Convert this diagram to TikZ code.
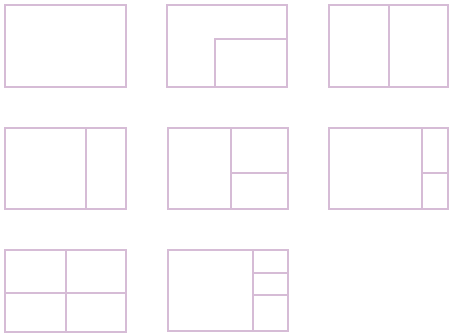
\documentclass[tikz,border=0pt]{standalone}
\definecolor{frame}{RGB}{214,188,214}
\begin{document}
\begin{tikzpicture}[x=1pt,y=-1pt,
  pane/.style={draw=frame,line width=2pt}]
\useasboundingbox (0,0) rectangle (449,335);
% row 1
\draw[pane] (5,5) rectangle (125.5,86.5);
\draw[pane] (167,5) rectangle (287,86.5);
\draw[pane] (214.5,38.5) rectangle (287,86.5);
\draw[pane] (328.5,5) rectangle (448,86.5);
\draw[pane] (388.5,5) -- (388.5,86.5);
% row 2
\draw[pane] (5,127.5) rectangle (125.5,208.5);
\draw[pane] (86,127.5) -- (86,208.5);
\draw[pane] (167.5,127.5) rectangle (287.5,208.5);
\draw[pane] (230.5,127.5) -- (230.5,208.5);
\draw[pane] (230.5,172.5) -- (287.5,172.5);
\draw[pane] (329,127.5) rectangle (448,208.5);
\draw[pane] (421.5,127.5) -- (421.5,208.5);
\draw[pane] (421.5,172.5) -- (448,172.5);
% row 3
\draw[pane] (5,249.5) rectangle (125.5,331.5);
\draw[pane] (65.5,249.5) -- (65.5,331.5);
\draw[pane] (5,292.5) -- (125.5,292.5);
\draw[pane] (167.5,249.5) rectangle (287.5,330.5);
\draw[pane] (252.5,249.5) -- (252.5,330.5);
\draw[pane] (252.5,272.5) -- (287.5,272.5);
\draw[pane] (252.5,295) -- (287.5,295);
\end{tikzpicture}
\end{document}
